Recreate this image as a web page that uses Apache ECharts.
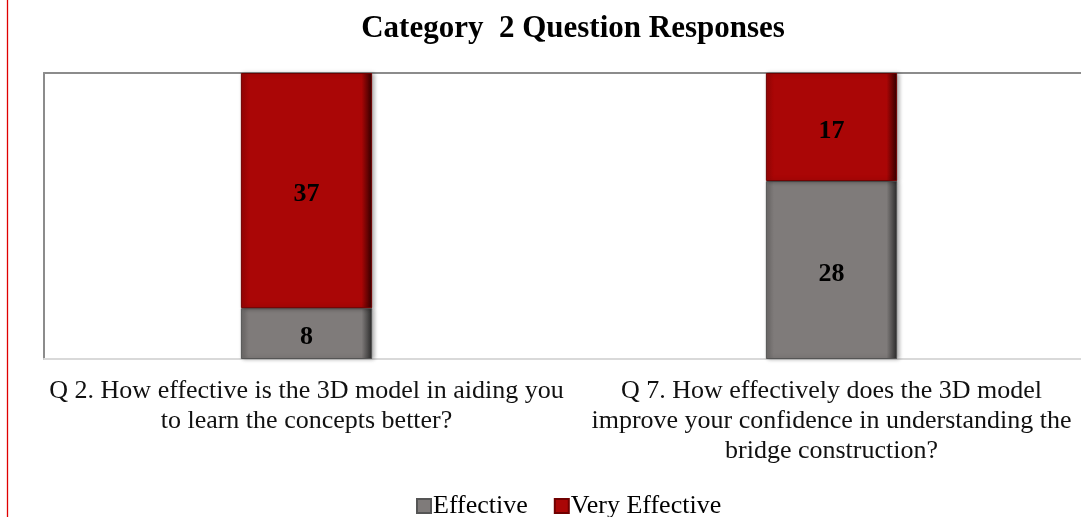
<!DOCTYPE html>
<html><head><meta charset="utf-8">
<script src="https://cdn.jsdelivr.net/npm/echarts@6/dist/echarts.min.js"></script>
<style>html,body{margin:0;padding:0;background:#fff}#c{width:1081px;height:517px}</style>
</head><body><div id="c"></div>
<script>
const categories = [
  'Q 2. How effective is the 3D model in aiding you\nto learn the concepts better?',
  'Q 7. How effectively does the 3D model\nimprove your confidence in understanding the\nbridge construction?'
];
const seriesNames = ['Effective', 'Very Effective'];
const effective = [8, 28];
const veryEffective = [37, 17];

function grad(light, base, dark) {
  return new echarts.graphic.LinearGradient(0, 0, 1, 0, [
    {offset: 0, color: light}, {offset: 0.06, color: base},
    {offset: 0.92, color: base}, {offset: 1, color: dark}
  ]);
}
const serif = '"Liberation Serif", "Times New Roman", serif';
const chart = echarts.init(document.getElementById('c'));
chart.setOption({
  animation: false,
  title: {text: 'Category  2 Question Responses', left: 568, top: 8, textAlign: 'center',
    textStyle: {fontFamily: serif, fontWeight: 'bold', fontSize: 31, color: '#000'}},
  legend: {top: 488, left: 411, itemWidth: 14, itemHeight: 14, itemGap: 26, icon: 'rect',
    textStyle: {fontFamily: serif, fontSize: 26, color: '#000', padding: [0, 0, 0, -3]},
    data: seriesNames},
  grid: {left: 44, top: 73, bottom: 158, right: -13, outerBoundsMode: 'none', containLabel: false},
  xAxis: [{type: 'category', data: categories, position: 'bottom',
    axisLine: {lineStyle: {color: '#d9d9d9', width: 2}}, axisTick: {show: false},
    axisLabel: {fontFamily: serif, fontSize: 26, lineHeight: 30, color: '#111', margin: 17, interval: 0}},
   {type: 'category', data: categories, position: 'top',
    axisLine: {lineStyle: {color: '#8c8c8c', width: 2}}, axisTick: {show: false}, axisLabel: {show: false}}],
  yAxis: {type: 'value', min: 0, max: 45, splitLine: {show: false},
    axisLine: {show: true, lineStyle: {color: '#8c8c8c', width: 2}}, axisLabel: {show: false}, axisTick: {show: false}},
  graphic: [{type: 'line', shape: {x1: 7.5, y1: 0, x2: 7.5, y2: 517}, style: {stroke: '#e00000', lineWidth: 1.3}}],
  series: [
    {name: seriesNames[0], type: 'bar', stack: 's', data: effective, barWidth: '25%',
     itemStyle: {color: grad('#6d6a69', '#7f7b7a', '#2a2a2a'), borderColor: '#555', borderWidth: 1,
       shadowColor: 'rgba(0,0,0,0.3)', shadowBlur: 4, shadowOffsetX: 2},
     label: {show: true, position: 'inside', offset: [0, 4], fontFamily: serif, fontWeight: 'bold', fontSize: 26, color: '#000'}},
    {name: seriesNames[1], type: 'bar', stack: 's', data: veryEffective, barWidth: '25%',
     itemStyle: {color: grad('#9a0505', '#aa0606', '#300000'), borderColor: '#700000', borderWidth: 1,
       shadowColor: 'rgba(0,0,0,0.3)', shadowBlur: 4, shadowOffsetX: 2},
     label: {show: true, position: 'inside', offset: [0, 4], fontFamily: serif, fontWeight: 'bold', fontSize: 26, color: '#000'}}
  ]
});
</script></body></html>
